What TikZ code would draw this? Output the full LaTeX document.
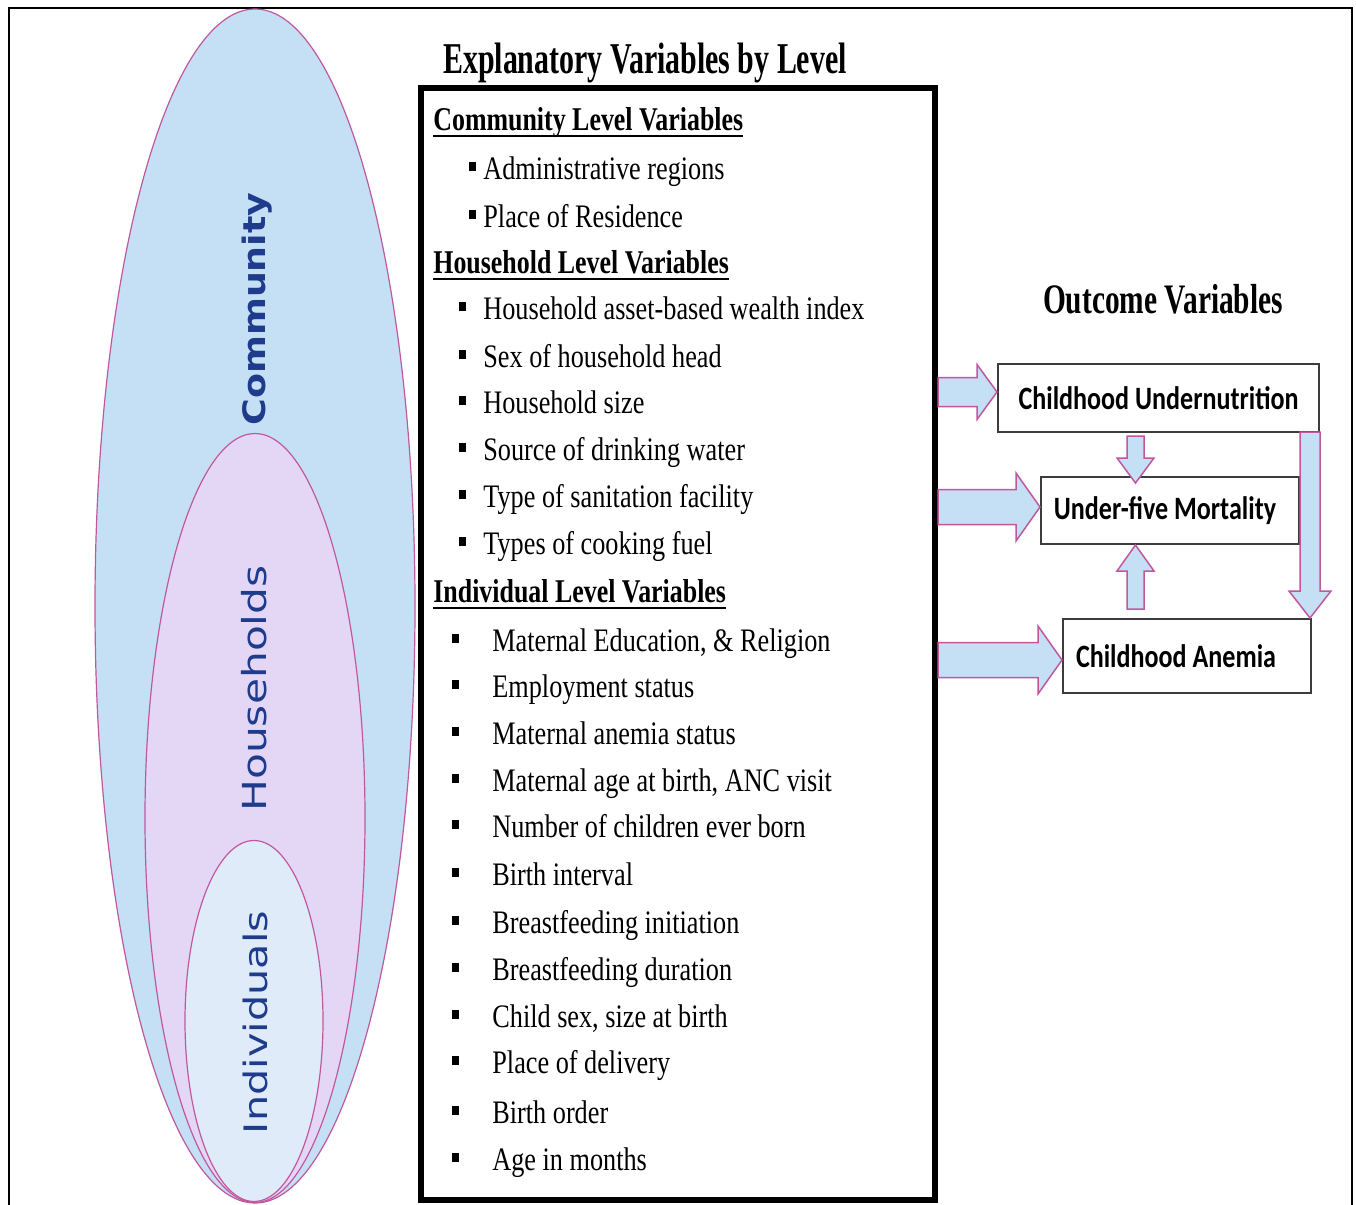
\documentclass[tikz,border=0pt]{standalone}
\usepackage{fontspec}
\usepackage{graphicx}
\usetikzlibrary{calc,shapes.geometric}
\newfontfamily\itemfont{Liberation Serif}[FakeStretch=0.8]
\newfontfamily\headfont{Liberation Serif}[FakeStretch=0.78]
\newfontfamily\titlefont{Liberation Serif}[FakeStretch=0.68]
\newfontfamily\outfont{Liberation Serif}[FakeStretch=0.70]
\newfontfamily\boxfont{Carlito}[FakeStretch=0.8]
\newfontfamily\lvlfont{DejaVu Sans}
\definecolor{commfill}{HTML}{C5E0F4}
\definecolor{housefill}{HTML}{E4D7F5}
\definecolor{indfill}{HTML}{DFEBF8}
\definecolor{pinkline}{HTML}{C0589E}
\definecolor{lvltext}{HTML}{1F3B8C}
\definecolor{boxline}{HTML}{3C3C3C}
\newcommand\myul[1]{\setbox0\hbox{#1}\rlap{\rule[-3.5pt]{\wd0}{1pt}}\box0}
\newcommand\mybul[1]{\llap{\raisebox{3.8pt}{\rule{3.5pt}{4.6pt}}\hspace{#1}}}
\begin{document}
\begin{tikzpicture}[x=0.5pt,y=-0.5pt,
  lvl/.style={ellipse, draw=pinkline, line width=0.6pt, inner sep=0pt},
  lvllabel/.style={rotate=90, anchor=base, inner sep=0pt, text=lvltext},
  hd/.style={anchor=base west, inner sep=0pt, font=\headfont\bfseries\fontsize{16.6}{20}\selectfont},
  itm/.style={anchor=base west, inner sep=0pt, font=\itemfont\fontsize{16.4}{19}\selectfont},
  ttl/.style={anchor=base, inner sep=0pt, font=\titlefont\bfseries\fontsize{22}{26}\selectfont},
  outbox/.style={draw=boxline, line width=1pt, fill=white, inner sep=0pt, font=\boxfont\bfseries\fontsize{16.3}{19}\selectfont},
  barrow/.style={fill=commfill, draw=pinkline, line width=0.75pt, line join=miter}
]
\useasboundingbox (0,0) rectangle (1356,1205);
\fill[white] (0,0) rectangle (1356,1205);
% outer frame
\draw[line width=0.8pt] (9,1215) -- (9,8) -- (1352,8) -- (1352,1215);

% level ellipses
\node[lvl, fill=commfill, minimum width=160pt, minimum height=597pt] (comm) at (255,606) {};
\node[lvl, fill=housefill, minimum width=110pt, minimum height=384.5pt] (house) at (255,818) {};
\node[lvl, fill=indfill, minimum width=69pt, minimum height=180.5pt] (indiv) at (254,1021) {};
\node[lvllabel] (lcomm) at (265,309) {\scalebox{1}[0.85]{\lvlfont\bfseries\fontsize{18.2}{21}\selectfont Community}};
\node[lvllabel] (lhouse) at (266,688.5) {\scalebox{1}[0.78]{\lvlfont\fontsize{21.2}{24}\selectfont Households}};
\node[lvllabel] (lind) at (267,1022.5) {\scalebox{1}[0.78]{\lvlfont\fontsize{20.7}{24}\selectfont Individuals}};

% explanatory box
\node[ttl] (tExpl) at (645,73) {Explanatory Variables by Level};
\node[draw, line width=3pt, minimum width=257pt, minimum height=556pt, inner sep=0pt] (expl) at (678,644) {};

\node[hd] (h1) at (433,130) {\myul{Community Level Variables}};
\node[itm] (c1) at (483,179) {\mybul{3.5pt}Administrative regions};
\node[itm] (c2) at (483,227) {\mybul{3.5pt}Place of Residence};
\node[hd] (h2) at (433,273) {\myul{Household Level Variables}};
\node[itm] (hh1) at (483,319) {\mybul{8.5pt}Household asset-based wealth index};
\node[itm] (hh2) at (483,367) {\mybul{8.5pt}Sex of household head};
\node[itm] (hh3) at (483,413) {\mybul{8.5pt}Household size};
\node[itm] (hh4) at (483,460) {\mybul{8.5pt}Source of drinking water};
\node[itm] (hh5) at (483,507) {\mybul{8.5pt}Type of sanitation facility};
\node[itm] (hh6) at (483,554) {\mybul{8.5pt}Types of cooking fuel};
\node[hd] (h3) at (433,602) {\myul{Individual Level Variables}};
\node[itm] (i1) at (492,651) {\mybul{16.5pt}Maternal Education, \& Religion};
\node[itm] (i2) at (492,697) {\mybul{16.5pt}Employment status};
\node[itm] (i3) at (492,744) {\mybul{16.5pt}Maternal anemia status};
\node[itm] (i4) at (492,791) {\mybul{16.5pt}Maternal age at birth, ANC visit};
\node[itm] (i5) at (492,837) {\mybul{16.5pt}Number of children ever born};
\node[itm] (i6) at (492,885) {\mybul{16.5pt}Birth interval};
\node[itm] (i7) at (492,933) {\mybul{16.5pt}Breastfeeding initiation};
\node[itm] (i8) at (492,980) {\mybul{16.5pt}Breastfeeding duration};
\node[itm] (i9) at (492,1027) {\mybul{16.5pt}Child sex, size at birth};
\node[itm] (i10) at (492,1073) {\mybul{16.5pt}Place of delivery};
\node[itm] (i11) at (492,1123) {\mybul{16.5pt}Birth order};
\node[itm] (i12) at (492,1170) {\mybul{16.5pt}Age in months};

% outcomes
\node[ttl, font=\outfont\bfseries\fontsize{21}{25}\selectfont] (tOut) at (1163,313) {Outcome Variables};
\node[outbox, minimum width=160.5pt, minimum height=34pt] (box1) at (1158.5,398) {Childhood Undernutrition};
\node[outbox, minimum width=129pt, minimum height=33.5pt] (box2) at (1170,510.5) {Under-five Mortality\hspace*{5pt}};
\node[outbox, minimum width=124pt, minimum height=37pt] (box3) at (1187,656) {Childhood Anemia\hspace*{11pt}};

% horizontal block arrows
\newcommand\harrow[5]{%
  \draw[barrow] ($(#1)+(0,#3)$) -- ($(#2)+(-#5,#3)$) -- ($(#2)+(-#5,#4)$) -- (#2)
    -- ($(#2)+(-#5,-#4)$) -- ($(#2)+(-#5,-#3)$) -- ($(#1)+(0,-#3)$) -- cycle;}
\coordinate (t1) at ($(box1.west)+(0,-6)$);
\coordinate (s1) at (expl.east |- t1);
\coordinate (t2) at ($(box2.west)+(0,-3.5)$);
\coordinate (s2) at (expl.east |- t2);
\coordinate (t3) at ($(box3.west)+(0,4)$);
\coordinate (s3) at (expl.east |- t3);
\harrow{s1}{t1}{14.5}{27.5}{20}
\harrow{s2}{t2}{17.5}{34}{24}
\harrow{s3}{t3}{17.5}{34}{24}

% down arrow undernutrition -> mortality
\coordinate (d1t) at ($(box2.north)+(-34.5,7)$);
\coordinate (d1s) at ($(d1t |- box1.south)+(0,3)$);
\draw[barrow] ($(d1s)+(-8.5,0)$) -- ($(d1t)+(-8.5,-25)$) -- ($(d1t)+(-18.5,-25)$) -- (d1t)
  -- ($(d1t)+(18.5,-25)$) -- ($(d1t)+(8.5,-25)$) -- ($(d1s)+(8.5,0)$) -- cycle;
% up arrow anemia -> mortality
\coordinate (u1t) at ($(box2.south)+(-34.5,0)$);
\coordinate (u1s) at ($(u1t |- box3.north)+(0,-9)$);
\draw[barrow] ($(u1s)+(-8.5,0)$) -- ($(u1t)+(-8.5,26)$) -- ($(u1t)+(-18.5,26)$) -- (u1t)
  -- ($(u1t)+(18.5,26)$) -- ($(u1t)+(8.5,26)$) -- ($(u1s)+(8.5,0)$) -- cycle;
% long down arrow undernutrition -> anemia
\coordinate (r1s) at ($(box1.south east)+(-10,-1)$);
\coordinate (r1t) at (r1s |- box3.north);
\draw[barrow] ($(r1s)+(-10,0)$) -- ($(r1t)+(-10,-27)$) -- ($(r1t)+(-21,-27)$) -- (r1t)
  -- ($(r1t)+(21,-27)$) -- ($(r1t)+(10,-27)$) -- ($(r1s)+(10,0)$) -- cycle;
\end{tikzpicture}
\end{document}
